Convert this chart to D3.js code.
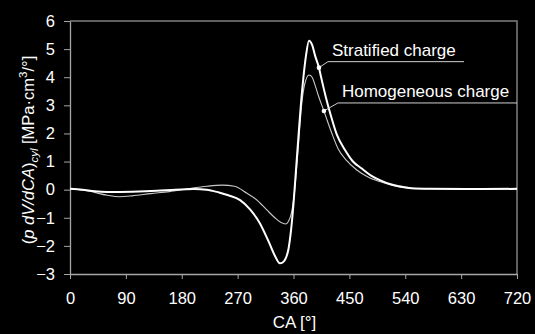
<!DOCTYPE html>
<html>
<head>
<meta charset="utf-8">
<script src="https://cdn.jsdelivr.net/npm/d3@7"></script>
<style>
  body { margin: 0; background: #000; }
  svg { display: block; background: #000; font-family: "Liberation Sans", Arial, sans-serif; }
  .axis path, .axis line { stroke: #a6a6a6; }
  .axis text { fill: #fff; font-size: 16.5px; }
</style>
</head>
<body>
<div id="vis"></div>
<script>
// chart size and plot margins
const WIDTH = 535;
const HEIGHT = 334;
const MARGINS = {left: 70, right: 18, top: 21, bottom: 60};

// tick values
const X_TICKS = [0, 90, 180, 270, 360, 450, 540, 630, 720];
const Y_TICKS = [-3, -2, -1, 0, 1, 2, 3, 4, 5, 6];

// stratified charge
const STRAT_CA = [0, 20, 40, 60, 100, 140, 170, 200, 220, 240, 255, 274, 290, 306, 320, 330, 338, 343, 348, 352, 356, 360, 364, 368, 372, 376, 380, 385, 390, 395, 401, 405, 412, 420, 430, 443, 455, 470, 485, 500, 515, 530, 550, 580, 640, 720];
const STRAT_P = [0.03, 0.0, -0.06, -0.08, -0.07, -0.04, 0.0, 0.02, 0.0, -0.1, -0.2, -0.37, -0.7, -1.2, -1.85, -2.35, -2.62, -2.58, -2.42, -2.1, -1.45, -0.5, 0.7, 1.9, 3.05, 4.0, 4.75, 5.3, 5.15, 4.75, 4.34, 3.95, 3.3, 2.65, 1.95, 1.41, 1.02, 0.75, 0.5, 0.33, 0.2, 0.12, 0.05, 0.03, 0.02, 0.03];

// homogeneous charge
const HOMO_CA = [0, 30, 60, 80, 100, 130, 160, 190, 220, 245, 265, 285, 300, 317, 330, 340, 347, 352, 357, 362, 368, 373, 378, 385, 390, 395, 400, 409, 421, 432, 445, 462, 480, 500, 520, 542, 570, 640, 720];
const HOMO_P = [0.03, -0.05, -0.2, -0.25, -0.22, -0.14, -0.07, 0.03, 0.12, 0.16, 0.12, -0.13, -0.35, -0.72, -1.0, -1.17, -1.22, -1.12, -0.8, 0.0, 1.6, 3.0, 3.75, 4.08, 4.0, 3.7, 3.35, 2.8, 2.05, 1.45, 1.05, 0.7, 0.45, 0.28, 0.15, 0.06, 0.03, 0.02, 0.02];

// labels and the CA where each leader touches its curve
const LABELS = ["Stratified charge", "Homogeneous charge"];
const LABEL_CA = [401, 409];

const strat = STRAT_CA.map((c, i) => ({ca: c, p: STRAT_P[i]}));
const homo = HOMO_CA.map((c, i) => ({ca: c, p: HOMO_P[i]}));

const FRAME = d3.select("#vis")
                .append("svg")
                .attr("width", WIDTH)
                .attr("height", HEIGHT);

const X_SCALE = d3.scaleLinear()
                  .domain([0, 720])
                  .range([MARGINS.left, WIDTH - MARGINS.right]);

const Y_SCALE = d3.scaleLinear()
                  .domain([-3, 6])
                  .range([HEIGHT - MARGINS.bottom, MARGINS.top]);

// plot area border (top and right)
FRAME.append("path")
     .attr("d", "M" + X_SCALE(0) + "," + Y_SCALE(6) + "H" + X_SCALE(720) + "V" + Y_SCALE(-3))
     .attr("fill", "none")
     .attr("stroke", "#808080")
     .attr("stroke-width", 1.5);

// x axis
FRAME.append("g")
     .attr("class", "axis")
     .attr("transform", "translate(0," + Y_SCALE(-3) + ")")
     .call(d3.axisBottom(X_SCALE).tickValues(X_TICKS).tickSize(5).tickSizeOuter(0).tickPadding(13));

// y axis
FRAME.append("g")
     .attr("class", "axis")
     .attr("transform", "translate(" + X_SCALE(0) + ",0)")
     .call(d3.axisLeft(Y_SCALE).tickValues(Y_TICKS).tickSize(6).tickSizeOuter(0).tickPadding(9));

FRAME.selectAll(".axis .domain").attr("stroke-width", 1.3);

// axis titles
FRAME.append("text")
     .attr("x", (X_SCALE(0) + X_SCALE(720)) / 2 + 1)
     .attr("y", 328)
     .attr("text-anchor", "middle")
     .attr("fill", "#fff")
     .attr("font-size", "17px")
     .text("CA [°]");

const yTitle = FRAME.append("text")
     .attr("transform", "translate(34,150) rotate(-90)")
     .attr("text-anchor", "middle")
     .attr("fill", "#fff")
     .attr("font-size", "16.5px");
yTitle.append("tspan").text("(");
yTitle.append("tspan").attr("font-style", "italic").text("p dV/dCA");
yTitle.append("tspan").text(")");
yTitle.append("tspan").attr("font-style", "italic").attr("font-size", "11.5px").attr("dy", 4).text("cyl");
yTitle.append("tspan").attr("dy", -4).text(" [MPa·cm");
yTitle.append("tspan").attr("font-size", "11.5px").attr("dy", -7).text("3");
yTitle.append("tspan").attr("dy", 7).text("/°]");

// curves
const line = d3.line()
               .x(d => X_SCALE(d.ca))
               .y(d => Y_SCALE(d.p))
               .curve(d3.curveMonotoneX);

FRAME.append("path")
     .datum(homo)
     .attr("d", line)
     .attr("fill", "none")
     .attr("stroke", "#c8c8c8")
     .attr("stroke-width", 1.1);

FRAME.append("path")
     .datum(strat)
     .attr("d", line)
     .attr("fill", "none")
     .attr("stroke", "#fff")
     .attr("stroke-width", 2);

// labels with leader lines
const SERIES = [strat, homo];
const LEADER = [{dx: 9, dy: -6, end: 464}, {dx: 14, dy: -8, end: X_SCALE(720)}];

SERIES.forEach((s, i) => {
  const pt = s.find(d => d.ca === LABEL_CA[i]);
  const px = X_SCALE(pt.ca);
  const py = Y_SCALE(pt.p);
  const L = LEADER[i];
  FRAME.append("path")
       .attr("d", "M" + px + "," + py + "L" + (px + L.dx) + "," + (py + L.dy) + "H" + L.end)
       .attr("fill", "none")
       .attr("stroke", "#d0d0d0")
       .attr("stroke-width", 1);
  FRAME.append("circle")
       .attr("cx", px)
       .attr("cy", py)
       .attr("r", 2.3)
       .attr("fill", "#fff");
  FRAME.append("text")
       .attr("x", px + L.dx + 4)
       .attr("y", py + L.dy - 5.5)
       .attr("fill", "#fff")
       .attr("font-size", "17px")
       .text(LABELS[i]);
});
</script>
</body>
</html>
